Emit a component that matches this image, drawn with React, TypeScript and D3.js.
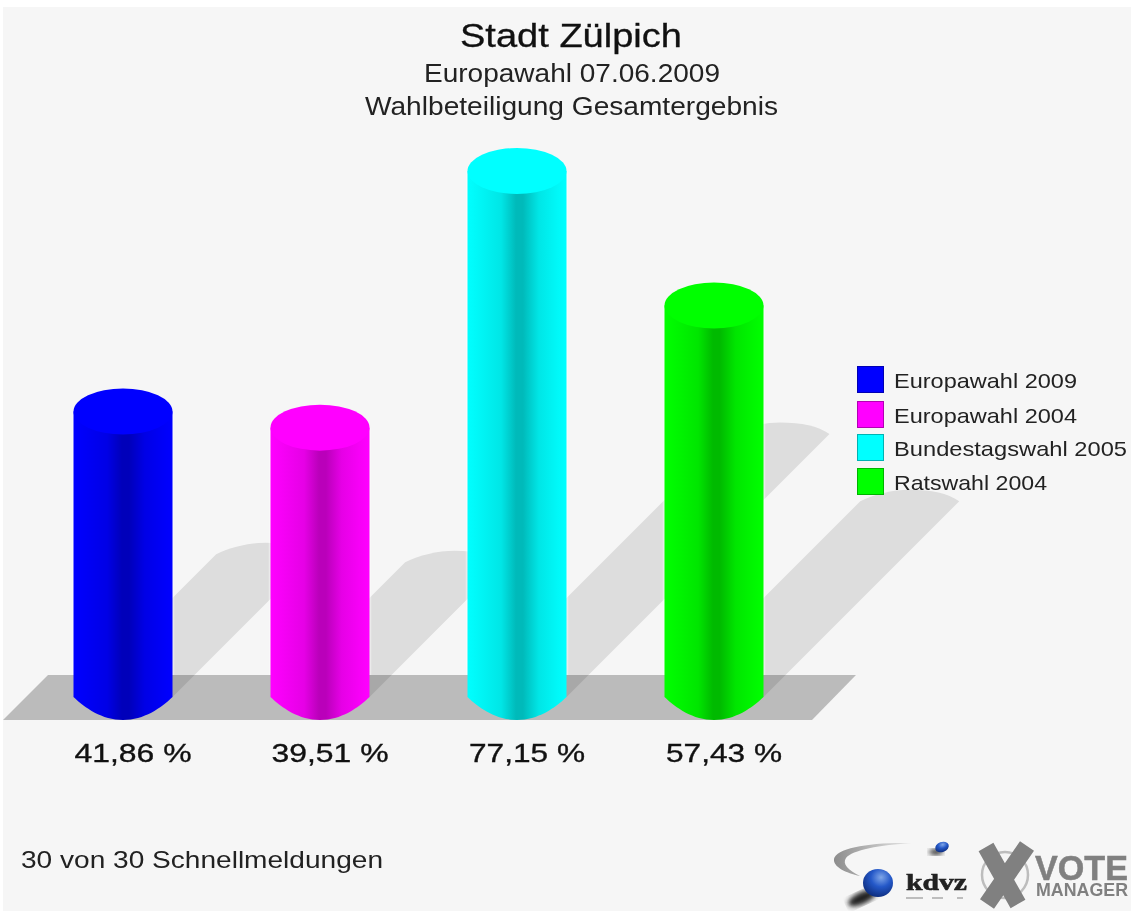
import React from "react";
import * as d3 from "d3";

const categories = ["Europawahl 2009", "Europawahl 2004", "Bundestagswahl 2005", "Ratswahl 2004"];
const turnout = [41.86, 39.51, 77.15, 57.43];
const valueLabels = ["41,86 %", "39,51 %", "77,15 %", "57,43 %"];
const colors = ["#0000ff", "#ff00ff", "#00ffff", "#00ff00"];
const legendWidths = [183, 183, 233, 153];
const legendBaselines = [388, 423, 456, 490];
const valueWidths = [117, 117, 116, 116];

const W = 1131, H = 911;
const FONT = "'Liberation Sans', Arial, sans-serif";
const rx = 49.5, ry = 23;
const baseY = 697;
const gradientStops: [number, number][] = [[0, 0], [0.14, 0.04], [0.34, 0.1], [0.49, 0.27], [0.56, 0.27], [0.72, 0.1], [0.9, 0.03], [1, 0]];

const x = d3.scalePoint<string>().domain(categories).range([123, 714]);
const y = d3.scaleLinear().domain([0, 77.15]).range([baseY, 171]);

const Txt = ({ x, y, size, width, anchor = "start", fill = "#222", weight = "normal", family = FONT, heavy = 0, children }: any) => (
  <text x={x} y={y} fontSize={size} fontFamily={family} fontWeight={weight} textAnchor={anchor} fill={fill}
    stroke={heavy ? fill : "none"} strokeWidth={heavy} textLength={width} lengthAdjust="spacingAndGlyphs">{children}</text>
);

const cylinder = (cx: number, top: number) =>
  `M${cx - rx},${top} L${cx - rx},${baseY} C${cx - 38},${baseY + 11} ${cx - 21},${baseY + ry} ${cx},${baseY + ry} ` +
  `C${cx + 21},${baseY + ry} ${cx + 38},${baseY + 11} ${cx + rx},${baseY} L${cx + rx},${top} Z`;

const shadow = (cx: number, h: number) => {
  const s = h / 2;
  const l = cx - rx + s, r = cx + rx + s, t = baseY - s, m = cx + s;
  return `M${cx - rx},${baseY} L${l},${t} C${l + 14},${t - 7} ${l + 32},${t - 11.5} ${m},${t - 11.5} ` +
    `C${m + 22},${t - 11.5} ${r - 12},${t - 8} ${r},${t} L${cx + rx},${baseY} Z`;
};

export default function App() {
  return (
    <svg width={W} height={H} viewBox={`0 0 ${W} ${H}`}
      style={{ position: "absolute", left: 0, top: 0, filter: "blur(0.7px)" }}>
      <defs>
        {colors.map((c, i) => (
          <linearGradient key={c} id={`g${i}`} x1="0" x2="1" y1="0" y2="0">
            {gradientStops.map(([o, d]) => (
              <stop key={o} offset={o} stopColor={d3.interpolateRgb(c, "#000")(d)} />
            ))}
          </linearGradient>
        ))}
        <radialGradient id="sphere" cx="0.6" cy="0.3" r="0.75">
          <stop offset="0" stopColor="#7fa6e8" />
          <stop offset="0.45" stopColor="#2458c8" />
          <stop offset="1" stopColor="#0c2a78" />
        </radialGradient>
        <linearGradient id="swoosh" x1="0" x2="1" y1="0" y2="0">
          <stop offset="0" stopColor="#8c8c8c" />
          <stop offset="1" stopColor="#e8e8e8" />
        </linearGradient>
        <filter id="soft"><feGaussianBlur stdDeviation="2.5" /></filter>
      </defs>

      <rect x={0} y={0} width={W} height={H} fill="#ffffff" />
      <rect x={3} y={7} width={W - 3} height={H - 7} fill="#f6f6f6" />

      <path d="M3,720 L48,675 L856,675 L812,720 Z" fill="#bbbbbb" />

      {categories.map((c, i) => (
        <path key={c} d={shadow(x(c)!, baseY - y(turnout[i]))} fill="#000" fillOpacity={0.1} />
      ))}

      {categories.map((c, i) => {
        const cx = x(c)!, top = y(turnout[i]);
        return (
          <g key={c}>
            <path d={`M${cx - rx},${top} L${cx - rx},675 M${cx + rx},${top} L${cx + rx},675`}
              stroke="#fff" strokeOpacity={0.4} strokeWidth={3.5} fill="none" />
            <path d={cylinder(cx, top)} fill={`url(#g${i})`} />
            <ellipse cx={cx} cy={top} rx={rx} ry={ry} fill={colors[i]} />
          </g>
        );
      })}

      <Txt x={571} y={47} size={33} width={222} anchor="middle" fill="#111" heavy={0.3}>Stadt Zülpich</Txt>
      <Txt x={572} y={82} size={25.5} width={296} anchor="middle">Europawahl 07.06.2009</Txt>
      <Txt x={571.5} y={115} size={25.5} width={413} anchor="middle">Wahlbeteiligung Gesamtergebnis</Txt>

      {categories.map((c, i) => (
        <Txt key={c} x={x(c)! + 10} y={762} size={25.5} width={valueWidths[i]} anchor="middle" fill="#111" heavy={0.35}>{valueLabels[i]}</Txt>
      ))}

      {categories.map((c, i) => (
        <g key={c}>
          <rect x={857.5} y={legendBaselines[i] - 21.5} width={26} height={26}
            fill={colors[i]} stroke={d3.interpolateRgb(colors[i], "#000")(0.3)} strokeWidth={1} />
          <Txt x={894} y={legendBaselines[i]} size={21} width={legendWidths[i]}>{c}</Txt>
        </g>
      ))}

      <Txt x={21} y={868} size={24.5} width={362}>30 von 30 Schnellmeldungen</Txt>

      <g>
        <path d="M912,843 C870,842 836,848 834,859 C833,867 846,873 860,876 C848,870 842,864 846,858 C852,850 880,845 912,843 Z" fill="url(#swoosh)" />
        <ellipse cx={936} cy={852} rx={7} ry={3} fill="#333" filter="url(#soft)" />
        <ellipse cx={942} cy={847} rx={7} ry={5} fill="url(#sphere)" transform="rotate(-20 942 847)" />
        <ellipse cx={862} cy={898} rx={15} ry={6} fill="#222" filter="url(#soft)" transform="rotate(-25 862 898)" />
        <ellipse cx={878} cy={883} rx={15} ry={14} fill="url(#sphere)" />
        <Txt x={906} y={890} size={23} width={61} weight="bold" family="'Liberation Serif', serif" fill="#222" heavy={0.6}>kdvz</Txt>
        <path d="M906,898 H923 M932,898 H943 M957,898 H963" stroke="#aaa" strokeWidth={1.5} fill="none" />
        <circle cx={1005} cy={875} r={23} fill="none" stroke="#bdbdbd" strokeWidth={2.5} />
        <path d="M986,847 L1018,904 M1027,846 L987,904" stroke="#808080" strokeWidth={17} fill="none" />
        <Txt x={1035} y={880} size={35} width={93} weight="bold" fill="#808080" heavy={0.5}>VOTE</Txt>
        <Txt x={1036} y={896} size={18} width={92} weight="bold" fill="#808080">MANAGER</Txt>
      </g>
    </svg>
  );
}
